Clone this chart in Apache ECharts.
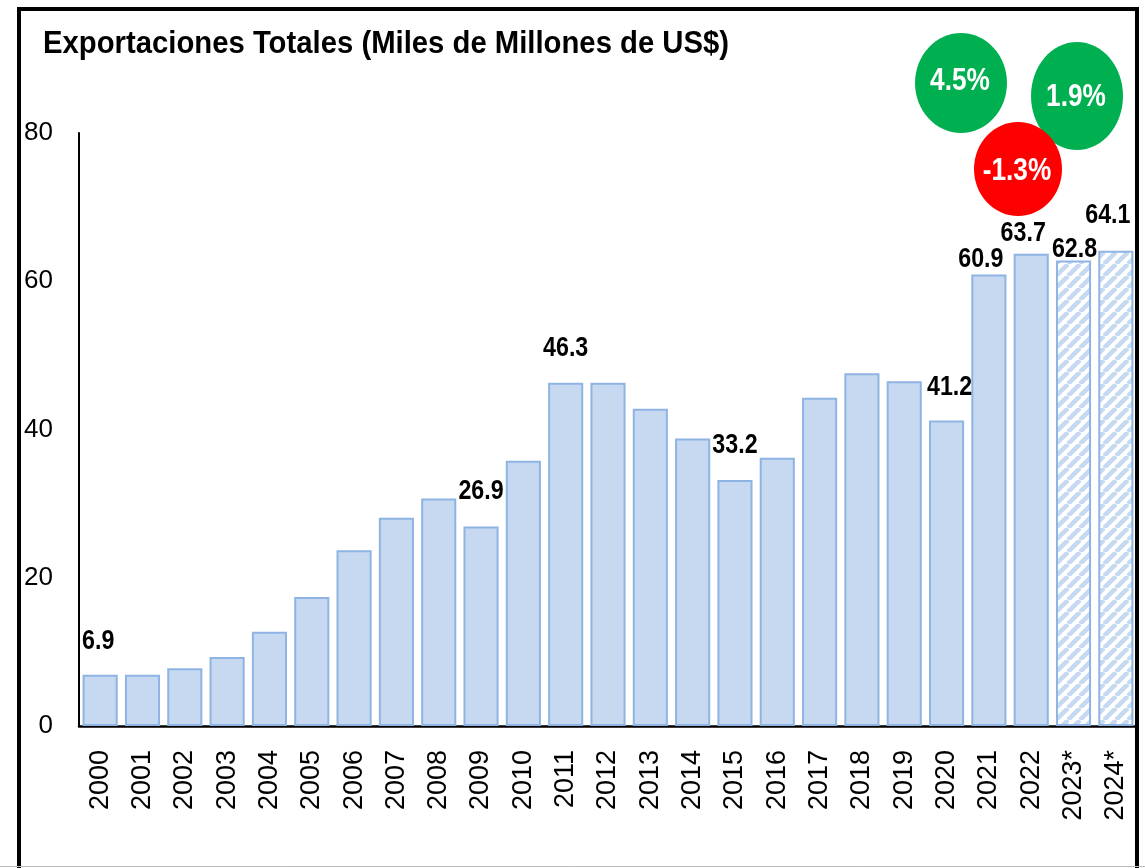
<!DOCTYPE html>
<html><head><meta charset="utf-8">
<script src="https://cdn.jsdelivr.net/npm/echarts@6/dist/echarts.min.js"></script>
<style>html,body{margin:0;padding:0;background:#fff}#c{width:1145px;height:868px}</style>
</head><body><div id="c"></div>
<script>
const titleText = 'Exportaciones Totales (Miles de Millones de US$)';
const categories = ['2000','2001','2002','2003','2004','2005','2006','2007','2008','2009','2010','2011','2012','2013','2014','2015','2016','2017','2018','2019','2020','2021','2022','2023*','2024*'];
const values = [6.9,6.9,7.8,9.3,12.7,17.4,23.7,28.1,30.7,26.9,35.8,46.3,46.3,42.8,38.8,33.2,36.2,44.3,47.6,46.5,41.2,60.9,63.7,62.8,64.1];
const labeledCategories = ['2000','2009','2011','2015','2020','2021','2022','2023*','2024*'];
const projectedCategories = ['2023*','2024*'];
const yTicks = [0,20,40,60,80];
const growthLabels = ['4.5%','-1.3%','1.9%'];
const growthColors = ['#00B050','#FF0000','#00B050'];

// layout-only settings (label centre offset from bar top, px)
const labelOffsets = {'2000':[-2,-33],'2009':[0,-35],'2011':[0,-34],'2015':[0,-34],'2020':[3,-33],'2021':[-8,-15],'2022':[-8,-20],'2023*':[1,-11],'2024*':[-8,-35]};
const bubbleGeom = [
  {cx:961, cy:83, rx:46, ry:50, tx:960, ty:81},
  {cx:1018, cy:169, rx:44, ry:47, tx:1017, ty:171},
  {cx:1077, cy:96, rx:46, ry:54, tx:1076, ty:97}
];
const bubbleOrder = [0,2,1];
const REG = '"Liberation Sans", Arial, sans-serif';
const NARROW_SCALE = 0.86;

function hatch(){
  const s=12; const c=document.createElement('canvas'); c.width=s; c.height=s;
  const g=c.getContext('2d'); g.fillStyle='#fff'; g.fillRect(0,0,s,s);
  g.strokeStyle='#C6D9F1'; g.lineWidth=4.5;
  for(let k=-1;k<=1;k++){g.beginPath(); g.moveTo(k*s,s); g.lineTo(k*s+s,0); g.stroke();}
  return c;
}
const pattern = {image: hatch(), repeat:'repeat'};

const barData = values.map((v,i)=>{
  const item = {value:v};
  if (projectedCategories.includes(categories[i])) item.itemStyle = {color: pattern};
  return item;
});
const labelData = categories.map((c,i)=>[c, values[i]]).filter(d=>labeledCategories.includes(d[0]));

const graphics = [
  {type:'rect', shape:{x:19, y:9, width:1118, height:900}, style:{fill:'none', stroke:'#000', lineWidth:4}, z:100},
  {type:'line', shape:{x1:0,y1:866.5,x2:1145,y2:866.5}, style:{stroke:'#bbb', lineWidth:1}, z:101},
  {type:'text', x:43, y:28, scaleX:0.915, style:{text:titleText, font:'bold 32px '+REG, fill:'#000'}, z:100}
];
bubbleOrder.forEach(i=>{
  const g = bubbleGeom[i];
  graphics.push({type:'ellipse', shape:{cx:g.cx, cy:g.cy, rx:g.rx, ry:g.ry}, style:{fill:growthColors[i]}, z:100});
  graphics.push({type:'text', x:g.tx, y:g.ty, scaleX:0.82, style:{text:growthLabels[i], font:'bold 32px '+REG, fill:'#fff', align:'center', verticalAlign:'middle'}, z:101});
});

const chart = echarts.init(document.getElementById('c'), null, {renderer:'canvas'});
chart.setOption({
  backgroundColor:'#fff',
  animation:false,
  grid:{left:79, right:8, top:133, bottom:142, containLabel:false},
  xAxis:{type:'category', data:categories,
    axisLine:{show:true, lineStyle:{color:'#000', width:2.5}},
    axisTick:{show:false},
    axisLabel:{rotate:90, fontSize:27, fontFamily:REG, color:'#000', margin:24, interval:0}},
  yAxis:{type:'value', min:yTicks[0], max:yTicks[yTicks.length-1], interval:yTicks[1]-yTicks[0],
    axisLine:{show:true, lineStyle:{color:'#000', width:2}},
    axisTick:{show:false}, splitLine:{show:false},
    axisLabel:{fontSize:26, fontFamily:REG, color:'#000', margin:26}},
  series:[
    {type:'bar', data:barData, barCategoryGap:'17%',
      itemStyle:{color:'#C6D9F1', borderColor:'#8EB4E3', borderWidth:2}},
    {type:'custom', data:labelData, encode:{x:0, y:1}, clip:false, z:5,
      renderItem:function(params, api){
        const idx = api.value(0), v = api.value(1);
        const p = api.coord([idx, v]);
        const off = labelOffsets[categories[idx]] || [0,-20];
        return {type:'text', x:p[0]+off[0], y:p[1]+off[1], scaleX:NARROW_SCALE,
          style:{text:String(v), font:'bold 27px '+REG, fill:'#000', align:'center', verticalAlign:'middle'}};
      }}
  ],
  graphic: graphics
});
</script></body></html>
